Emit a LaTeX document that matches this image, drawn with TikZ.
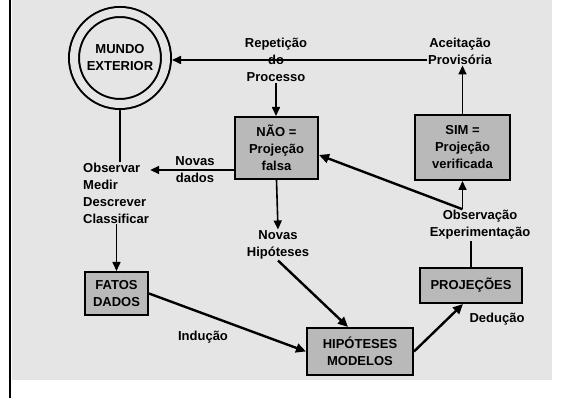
\documentclass[tikz,border=0pt]{standalone}
\usepackage{fontspec}
\setmainfont{Liberation Sans}
\usetikzlibrary{arrows.meta}

\begin{document}
\begin{tikzpicture}[x=1pt, y=1pt, font=\bfseries\fontsize{13}{17}\selectfont,
    box/.style={draw, line width=2pt, fill=gray!55, align=center, inner sep=0pt},
    lbl/.style={align=center, inner sep=1pt},
    arr/.style={line width=1.6pt, -{Triangle[length=9pt,width=8pt]}},
    thickarr/.style={line width=2.4pt, -{Triangle[length=10pt,width=9pt]}},
    ln/.style={line width=1.6pt}]
  \useasboundingbox (0,0) rectangle (584,398);
  \fill[gray!20] (12,18) rectangle (552,398);
  \draw[line width=2pt] (10,0) -- (10,398);

  \node[draw, circle, line width=2pt, double=gray!20, double distance=8pt,
    minimum size=92pt, inner sep=0pt, outer sep=6pt, fill=gray!20,
    align=center] (mundo) at (120,340) {MUNDO\\EXTERIOR};
  \node[box, minimum width=83pt, minimum height=62pt] (nao) at (276.5,250) {NÃO =\\Projeção\\falsa};
  \node[box, minimum width=95pt, minimum height=65pt] (sim) at (462.5,250.5) {SIM =\\Projeção\\verificada};
  \node[box, minimum width=63pt, minimum height=43pt] (fatos) at (116.5,104.5) {FATOS\\DADOS};
  \node[box, minimum width=106pt, minimum height=47pt] (hipot) at (360,46.5) {HIPÓTESES\\MODELOS};
  \node[box, minimum width=102pt, minimum height=35pt] (proj) at (471,112.5) {PROJEÇÕES};

  \node[lbl] (repet) at (276,338) {Repetição\\do\\Processo};
  \node[lbl] (aceit) at (460,347) {Aceitação\\Provisória};
  \node[lbl, align=left, anchor=west] (observar) at (82,205) {Observar\\Medir\\Descrever\\Classificar};
  \node[lbl] (novasdados) at (195,228) {Novas\\dados};
  \node[lbl] (novaship) at (278,153) {Novas\\Hipóteses};
  \node[lbl] (obsexp) at (480,173) {Observação\\Experimentação};
  \node[lbl] (inducao) at (203,61) {Indução};
  \node[lbl] (deducao) at (497,79) {Dedução};

  \coordinate (br) at (sim.south |- obsexp.north);

  \draw[arr] (aceit.west |- repet) -- (mundo.east |- repet);
  \draw[arr] (repet.south) -- (repet.south |- nao.north);
  \draw[arr] (sim.north) -- (sim.north |- aceit.south);
  \draw[ln] (mundo.south) -- (mundo.south |- observar.north);
  \draw[arr] (fatos.north |- observar.south) -- (fatos.north);
  \draw[arr] (nao.west |- novasdados) -- (observar.east |- novasdados);
  \draw[arr] (nao.south) -- (novaship.north);
  \draw[thickarr] (novaship.south) -- ([xshift=-12pt]hipot.north);
  \draw[thickarr] (fatos.east) -- (hipot.west);
  \draw[thickarr] (hipot.east) -- ([xshift=-8pt]proj.south);
  \draw[ln] (proj.north) -- (proj.north |- obsexp.south);
  \draw[arr] (br) -- (sim.south);
  \draw[thickarr] (br) -- ([yshift=-7pt]nao.east);
\end{tikzpicture}
\end{document}
